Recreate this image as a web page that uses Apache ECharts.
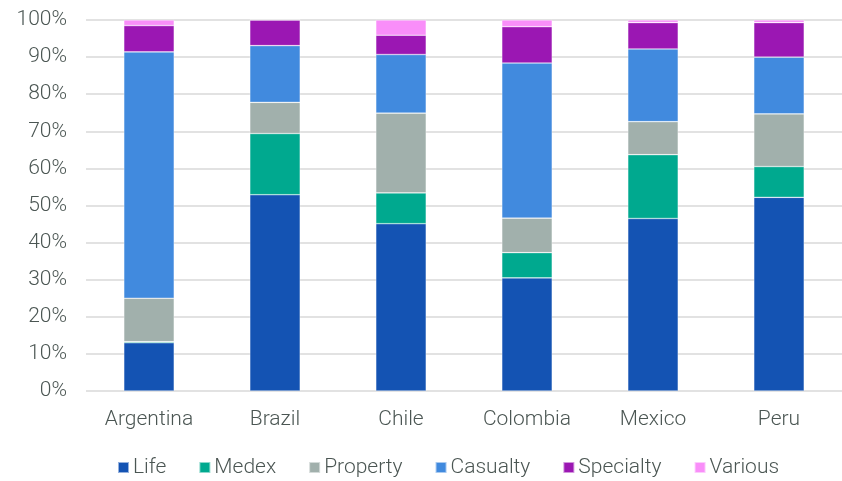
<!DOCTYPE html>
<html>
<head>
<meta charset="utf-8">
<script src="https://cdn.jsdelivr.net/npm/echarts@6/dist/echarts.min.js"></script>
<style>
  html, body { margin: 0; padding: 0; background: #fff; }
  #chart { width: 842px; height: 481px; }
</style>
</head>
<body>
<div id="chart"></div>
<script>
// Share of premiums by line of business, per country (%)
const countries = ['Argentina', 'Brazil', 'Chile', 'Colombia', 'Mexico', 'Peru'];
const life      = [13.0, 52.9, 45.1, 30.5, 46.5, 52.2];
const medex     = [0.3, 16.5, 8.3, 6.8, 17.2, 8.3];
const property  = [11.7, 8.4, 21.5, 9.3, 8.9, 14.2];
const casualty  = [66.4, 15.3, 15.8, 41.8, 19.6, 15.3];
const specialty = [7.1, 6.9, 5.2, 9.8, 7.1, 9.3];
const various   = [1.5, 0.0, 4.1, 1.8, 0.7, 0.7];
const yTicks = [0, 10, 20, 30, 40, 50, 60, 70, 80, 90, 100];

const seriesDefs = [
  { name: 'Life', data: life, color: '#1453b3' },
  { name: 'Medex', data: medex, color: '#00a98f' },
  { name: 'Property', data: property, color: '#a1b0ac' },
  { name: 'Casualty', data: casualty, color: '#418ade' },
  { name: 'Specialty', data: specialty, color: '#9b17b3' },
  { name: 'Various', data: various, color: '#f98ef9' }
];

const textColor = '#4b5653';
const font = 'Roboto';

const chart = echarts.init(document.getElementById('chart'), null, { renderer: 'canvas' });
chart.setOption({
  animation: false,
  grid: { left: 86, right: 0, top: 20, bottom: 90, containLabel: false },
  legend: {
    bottom: -2,
    left: 112,
    itemWidth: 11,
    itemHeight: 11,
    itemGap: 32,
    icon: 'rect',
    textStyle: { color: textColor, fontSize: 21, fontFamily: font, fontWeight: 300, padding: [0, 0, 0, -1] },
    data: seriesDefs.map(s => s.name)
  },
  xAxis: {
    type: 'category',
    data: countries,
    axisLine: { show: false },
    axisTick: { show: false },
    axisLabel: { color: textColor, fontSize: 21, fontFamily: font, fontWeight: 300, margin: 18 }
  },
  yAxis: {
    type: 'value',
    min: 0,
    max: 100,
    interval: 10,
    axisLine: { show: false },
    axisTick: { show: false },
    splitLine: { lineStyle: { color: '#d9d9d9', width: 1.6 } },
    axisLabel: {
      color: textColor, fontSize: 21, fontFamily: font, fontWeight: 300, margin: 19,
      formatter: v => (yTicks.includes(v) ? v + '%' : '')
    }
  },
  series: seriesDefs.map(s => ({
    name: s.name,
    type: 'bar',
    stack: 'total',
    barWidth: '40%',
    data: s.data,
    itemStyle: { color: s.color, borderColor: 'rgba(255,255,255,0.55)', borderWidth: 0.6 }
  }))
});
</script>
</body>
</html>
